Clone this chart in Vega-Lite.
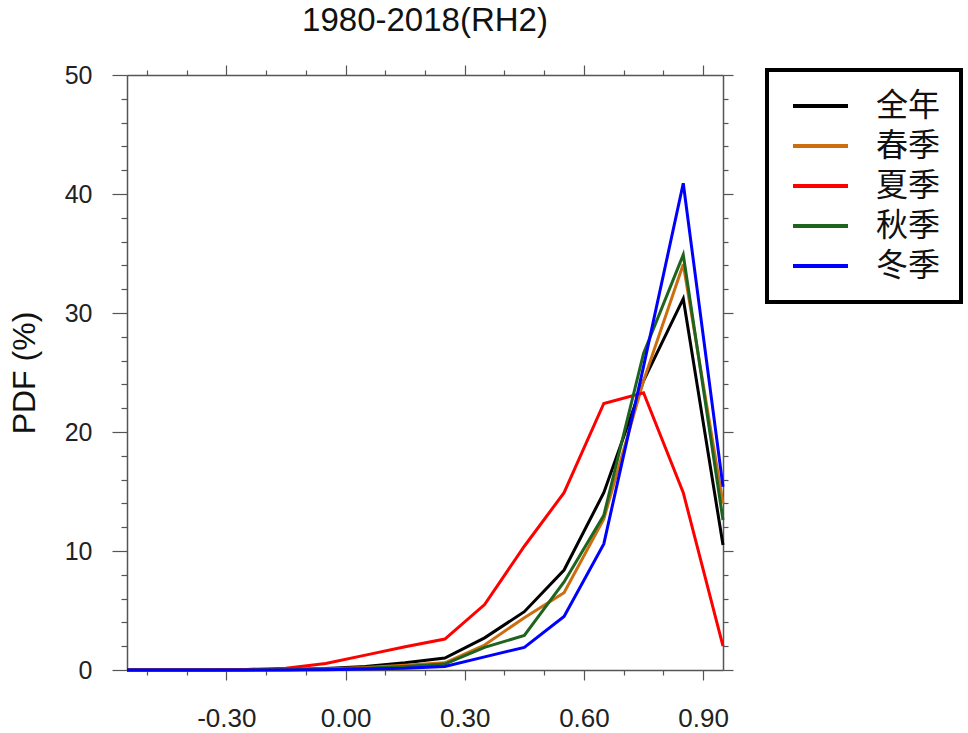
{
  "$schema": "https://vega.github.io/schema/vega-lite/v6.json",
  "autosize": {"type": "none"},
  "width": 596,
  "height": 595,
  "padding": {"left": 127, "top": 75, "right": 245, "bottom": 63},
  "background": "white",
  "title": {"text": "1980-2018(RH2)", "font": "Liberation Sans", "fontSize": 33, "fontWeight": "normal", "color": "#111", "anchor": "middle", "offset": 25},
  "config": {
    "view": {"stroke": null},
    "legend": {"strokeWidth": 4},
    "axis": {"domainColor": "#555", "tickColor": "#555", "domainWidth": 1.5, "tickWidth": 1.2, "grid": false, "labelFont": "Liberation Sans", "labelFontSize": 25, "labelColor": "#222", "titleFont": "Liberation Sans", "titleFontWeight": "normal", "titleColor": "#111"}
  },
  "data": {"values": [
    {"x": -0.55, "s": "全年", "v": 0}, {"x": -0.45, "s": "全年", "v": 0}, {"x": -0.35, "s": "全年", "v": 0}, {"x": -0.25, "s": "全年", "v": 0.02}, {"x": -0.15, "s": "全年", "v": 0.05}, {"x": -0.05, "s": "全年", "v": 0.12}, {"x": 0.05, "s": "全年", "v": 0.3}, {"x": 0.15, "s": "全年", "v": 0.6}, {"x": 0.25, "s": "全年", "v": 1.0}, {"x": 0.35, "s": "全年", "v": 2.7}, {"x": 0.45, "s": "全年", "v": 4.9}, {"x": 0.55, "s": "全年", "v": 8.4}, {"x": 0.65, "s": "全年", "v": 14.9}, {"x": 0.75, "s": "全年", "v": 24.3}, {"x": 0.85, "s": "全年", "v": 31.2}, {"x": 0.95, "s": "全年", "v": 10.5},
    {"x": -0.55, "s": "春季", "v": 0}, {"x": -0.45, "s": "春季", "v": 0}, {"x": -0.35, "s": "春季", "v": 0}, {"x": -0.25, "s": "春季", "v": 0.01}, {"x": -0.15, "s": "春季", "v": 0.03}, {"x": -0.05, "s": "春季", "v": 0.08}, {"x": 0.05, "s": "春季", "v": 0.2}, {"x": 0.15, "s": "春季", "v": 0.4}, {"x": 0.25, "s": "春季", "v": 0.6}, {"x": 0.35, "s": "春季", "v": 2.1}, {"x": 0.45, "s": "春季", "v": 4.4}, {"x": 0.55, "s": "春季", "v": 6.5}, {"x": 0.65, "s": "春季", "v": 12.7}, {"x": 0.75, "s": "春季", "v": 24.3}, {"x": 0.85, "s": "春季", "v": 34.1}, {"x": 0.95, "s": "春季", "v": 14.0},
    {"x": -0.55, "s": "夏季", "v": 0}, {"x": -0.45, "s": "夏季", "v": 0}, {"x": -0.35, "s": "夏季", "v": 0.01}, {"x": -0.25, "s": "夏季", "v": 0.05}, {"x": -0.15, "s": "夏季", "v": 0.15}, {"x": -0.05, "s": "夏季", "v": 0.55}, {"x": 0.05, "s": "夏季", "v": 1.25}, {"x": 0.15, "s": "夏季", "v": 1.95}, {"x": 0.25, "s": "夏季", "v": 2.6}, {"x": 0.35, "s": "夏季", "v": 5.5}, {"x": 0.45, "s": "夏季", "v": 10.4}, {"x": 0.55, "s": "夏季", "v": 14.9}, {"x": 0.65, "s": "夏季", "v": 22.4}, {"x": 0.75, "s": "夏季", "v": 23.3}, {"x": 0.85, "s": "夏季", "v": 14.9}, {"x": 0.95, "s": "夏季", "v": 2.0},
    {"x": -0.55, "s": "秋季", "v": 0}, {"x": -0.45, "s": "秋季", "v": 0}, {"x": -0.35, "s": "秋季", "v": 0}, {"x": -0.25, "s": "秋季", "v": 0.01}, {"x": -0.15, "s": "秋季", "v": 0.02}, {"x": -0.05, "s": "秋季", "v": 0.06}, {"x": 0.05, "s": "秋季", "v": 0.15}, {"x": 0.15, "s": "秋季", "v": 0.3}, {"x": 0.25, "s": "秋季", "v": 0.5}, {"x": 0.35, "s": "秋季", "v": 1.9}, {"x": 0.45, "s": "秋季", "v": 2.9}, {"x": 0.55, "s": "秋季", "v": 7.4}, {"x": 0.65, "s": "秋季", "v": 13.0}, {"x": 0.75, "s": "秋季", "v": 26.6}, {"x": 0.85, "s": "秋季", "v": 34.9}, {"x": 0.95, "s": "秋季", "v": 12.6},
    {"x": -0.55, "s": "冬季", "v": 0}, {"x": -0.45, "s": "冬季", "v": 0}, {"x": -0.35, "s": "冬季", "v": 0}, {"x": -0.25, "s": "冬季", "v": 0}, {"x": -0.15, "s": "冬季", "v": 0.01}, {"x": -0.05, "s": "冬季", "v": 0.03}, {"x": 0.05, "s": "冬季", "v": 0.08}, {"x": 0.15, "s": "冬季", "v": 0.15}, {"x": 0.25, "s": "冬季", "v": 0.3}, {"x": 0.35, "s": "冬季", "v": 1.1}, {"x": 0.45, "s": "冬季", "v": 1.9}, {"x": 0.55, "s": "冬季", "v": 4.5}, {"x": 0.65, "s": "冬季", "v": 10.6}, {"x": 0.75, "s": "冬季", "v": 25.5}, {"x": 0.85, "s": "冬季", "v": 40.9}, {"x": 0.95, "s": "冬季", "v": 15.4}
  ]},
  "layer": [
    {
      "mark": {"type": "line", "strokeWidth": 3},
      "encoding": {
        "x": {"field": "x", "type": "quantitative", "scale": {"domain": [-0.55, 0.95], "nice": false, "zero": false},
          "axis": {"orient": "bottom", "title": null, "labelFontSize": 26, "values": [-0.5, -0.4, -0.3, -0.2, -0.1, 0, 0.1, 0.2, 0.3, 0.4, 0.5, 0.6, 0.7, 0.8, 0.9],
            "tickSize": {"condition": {"test": "abs(round(datum.value*10)) % 3 == 0", "value": 10}, "value": 5},
            "labelExpr": "abs(round(datum.value*10)) % 3 == 0 ? (datum.value < -0.001 ? '-' : '') + format(abs(datum.value), '.2f') : ''",
            "labelPadding": 25}},
        "y": {"field": "v", "type": "quantitative", "scale": {"domain": [0, 50], "nice": false},
          "axis": {"orient": "left", "title": "PDF (%)", "titleFontSize": 32, "titlePadding": 23,
            "values": [0, 2, 4, 6, 8, 10, 12, 14, 16, 18, 20, 22, 24, 26, 28, 30, 32, 34, 36, 38, 40, 42, 44, 46, 48, 50],
            "tickSize": {"condition": {"test": "datum.value % 10 == 0", "value": 15}, "value": 6},
            "labelExpr": "datum.value % 10 == 0 ? datum.label : ''",
            "labelPadding": 20}},
        "color": {"field": "s", "type": "nominal",
          "scale": {"domain": ["全年", "春季", "夏季", "秋季", "冬季"], "range": ["#000000", "#cc6e10", "#ff0000", "#1e641e", "#0000ff"]},
          "legend": {"orient": "none", "legendX": 640, "legendY": -5, "title": null, "direction": "vertical",
            "strokeColor": "#000", "fillColor": "#fff", "padding": 20,
            "symbolType": "M-0.91,0H4.09", "symbolSize": 484, "symbolStrokeWidth": 4,
            "labelFont": "Noto Sans CJK SC", "labelFontSize": 32, "labelColor": "#111", "labelOffset": 57, "rowPadding": 8,
            "labelExpr": "datum.label + '\u2005'"}}
      }
    },
    {
      "mark": {"type": "line", "opacity": 0},
      "encoding": {
        "x": {"field": "x", "type": "quantitative", "scale": {"domain": [-0.55, 0.95], "nice": false, "zero": false},
          "axis": {"orient": "top", "title": null, "labels": false, "values": [-0.5, -0.4, -0.3, -0.2, -0.1, 0, 0.1, 0.2, 0.3, 0.4, 0.5, 0.6, 0.7, 0.8, 0.9],
            "tickSize": {"condition": {"test": "abs(round(datum.value*10)) % 3 == 0", "value": 10}, "value": 5}}},
        "y": {"field": "v", "type": "quantitative", "scale": {"domain": [0, 50], "nice": false},
          "axis": {"orient": "right", "title": null, "labels": false,
            "values": [0, 2, 4, 6, 8, 10, 12, 14, 16, 18, 20, 22, 24, 26, 28, 30, 32, 34, 36, 38, 40, 42, 44, 46, 48, 50],
            "tickSize": {"condition": {"test": "datum.value % 10 == 0", "value": 10}, "value": 5}}},
        "detail": {"field": "s", "type": "nominal"}
      }
    }
  ],
  "resolve": {"axis": {"x": "independent", "y": "independent"}}
}
